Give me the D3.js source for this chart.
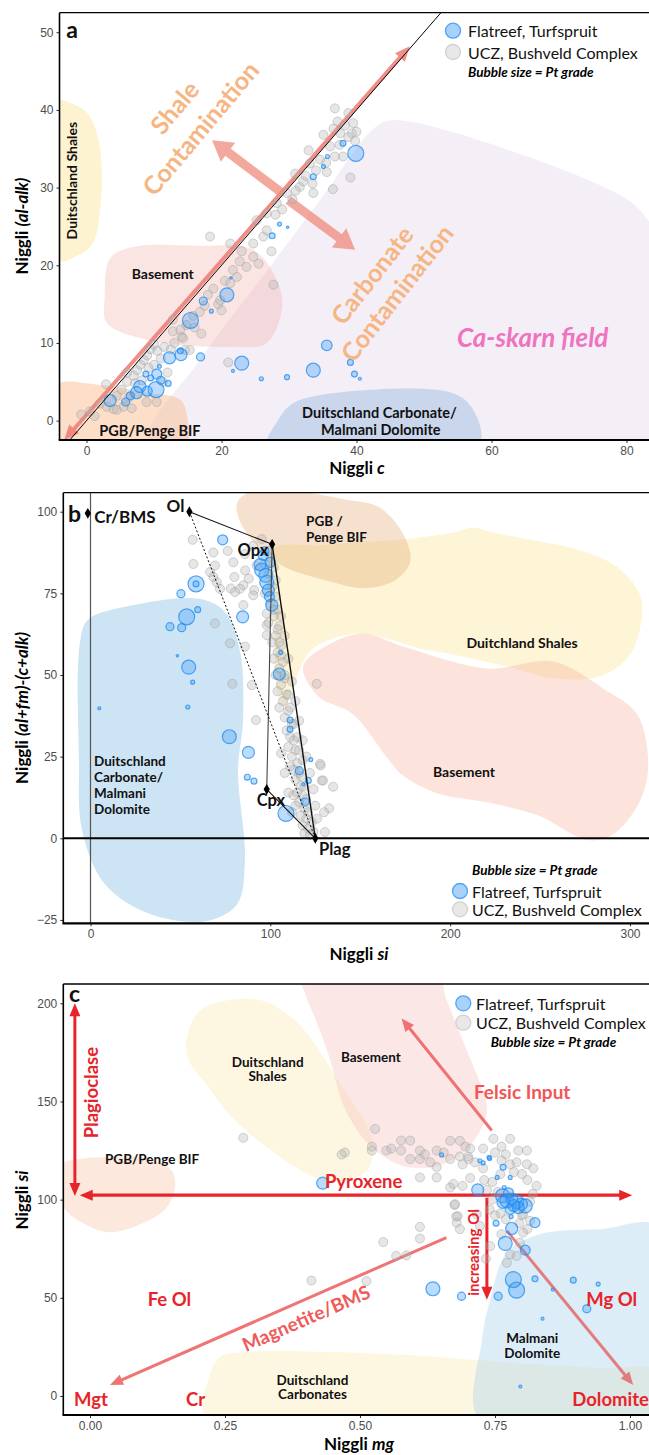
<!DOCTYPE html>
<html>
<head>
<meta charset="utf-8">
<script src="https://cdn.jsdelivr.net/npm/d3@7"></script>
<style>
  body { margin: 0; background: #fff; }
  svg text { font-family: Lato, "Open Sans", "DejaVu Sans", sans-serif; }
  .tick text { font-family: "Liberation Sans", Arial, sans-serif; font-size: 12px; fill: #4d4d4d; }
  .tick line { stroke: #333; }
</style>
</head>
<body>
<svg id="fig" width="649" height="1455"></svg>
<script>
// ---------------- Panel a: Niggli c vs Niggli (al-alk) ----------------
// [c, al-alk, Pt grade]
const flatreefA = [
  [3.5,2.6,5.8],[5.8,2.4,2.6],[7.9,4.4,5.8],[7.4,3.6,5.8],[10.3,4.0,10.2],[8.8,6.0,1.4],[10.4,6.0,4.0],
  [12.1,4.8,1.4],[10.8,7.0,0.6],[12.3,8.1,5.8],[14.0,8.5,5.8],[13.9,9.0,1.4],[16.9,8.2,2.6],[15.4,12.9,10.2],
  [17.3,15.4,2.6],[18.5,14.1,0.6],[20.8,16.2,7.8],[21.4,18.4,0.2],[23.0,7.4,7.8],[21.7,6.4,0.36],[25.9,5.4,0.64],
  [29.7,5.6,1.0],[33.6,6.5,7.8],[35.6,9.7,4.5],[39.1,7.5,1.4],[39.7,6.0,1.4],[40.5,5.4,0.36],[27.5,23.8,1.4],
  [28.6,25.3,0.64],[29.8,24.9,0.2],[33.6,31.4,1.4],[35.1,32.7,0.64],[38.0,35.7,1.4],[35.7,34.0,0.64],
  [39.9,34.4,10.2],[6.5,3.2,2.6],[9.0,3.8,4.0],[11.0,5.2,2.6],[9.5,5.5,1.4]
];
// [c, al-alk]
const uczA = [
  [-0.8,0.8],[0.5,1.2],[1.2,0.6],[2.9,4.7],[3.0,1.8],[2.0,2.2],[4.0,1.5],[5.5,1.8],[6.7,1.6],[8.9,2.4],
  [10.4,2.4],[4.5,3.2],[5.2,4.0],[6.0,5.0],[6.3,3.0],[7.0,5.8],[7.5,6.5],[8.0,7.2],[8.5,7.8],[9.0,8.4],
  [9.5,9.2],[10.0,9.8],[10.5,9.0],[11.0,8.0],[8.2,5.2],[9.2,6.8],[10.0,7.2],[11.5,9.5],[12.0,6.2],[12.5,9.2],
  [13.0,10.0],[11.3,5.0],[7.2,4.8],[6.0,6.2],[14.6,9.1],[12.8,11.5],[4.5,1.4],[21.0,7.5],[27.7,17.5],
  [14.8,12.3],[16.8,14.0],[14.1,10.8],[13.9,11.7],[14.3,10.6],[15.3,9.1],[15.8,13.5],[16.0,12.0],[17.5,14.8],
  [18.0,16.2],[18.8,17.0],[19.5,15.0],[20.0,14.2],[19.8,15.5],[20.5,18.0],[21.3,17.7],[22.3,18.5],[23.7,19.8],
  [21.7,19.4],[22.7,20.5],[24.7,21.1],[26.2,23.7],[24.7,22.8],[26.7,24.5],[27.4,21.8],[18.3,23.7],[21.3,22.8],
  [23.0,21.8],[25.5,20.2],[17.0,11.2],[12.8,13.0],
  [25.2,25.8],[26.7,26.7],[28.2,28.0],[29.7,29.3],[31.6,30.1],[32.1,30.8],[33.1,33.1],[34.6,33.6],[35.1,36.8],
  [32.9,34.8],[33.6,29.3],[30.9,31.8],[28.0,26.5],[29.0,27.2],[30.5,28.5],[31.0,29.6],[32.5,31.5],[34.0,32.2],
  [33.5,30.5],[35.5,33.2],[36.8,40.2],[38.8,39.6],[39.5,38.3],[39.3,37.0],[37.6,37.0],[36.6,37.6],[36.1,35.3],
  [38.0,34.0],[36.8,34.0],[35.6,32.0],[39.1,31.3],[36.5,29.8],[40.0,37.2],[38.8,36.5],[37.2,38.5],[38.3,38.0],
  [39.8,36.0],[37.5,35.5]
];
const ticksAx = [0, 20, 40, 60, 80];
const ticksAy = [0, 10, 20, 30, 40, 50];
// field outlines [c, al-alk]
const fieldSkarnA = [[9.4,-3.1],[16.8,7.8],[25.7,18.1],[34.6,28.4],[42.7,37.7],[45.7,38.7],[76.1,30.3],[82,27.1],[85,22],[85,-3.1]];
const fieldShalesA = [[-4.7,41.1],[-2.4,40.9],[0.1,39.6],[1.6,36.8],[2.3,31.9],[2.0,27.0],[1.4,23.8],[0.5,22.3],[-1.7,21.1],[-3.9,20.6]];
const fieldBasementA = [[3.5,20.9],[6.9,22.35],[16.8,22.5],[24.7,22.0],[28.2,18.1],[29.0,14.6],[26.7,10.0],[21.7,9.5],[9.0,10.4],[3.0,12.6],[2.7,15.9]];
const fieldPgbA = [[-4.7,4.5],[2.0,4.6],[9.0,3.6],[13.9,2.7],[14.9,0.5],[14.6,-3.2],[-4.7,-3.2]];
const fieldCarbA = [[26.9,-3.1],[28.4,0.1],[30.2,2.0],[34.6,3.3],[54.1,3.6],[57.3,1.4],[58.1,-3.1]];

// ---------------- Panel b: Niggli si vs (al+fm)-(c+alk) ----------------
const flatreefB = [
  [73.5,91.4,4.0],[58.7,77.9,10.2],[58.7,77.9,1.4],[50.3,74.9,2.6],[59.6,70.0,1.4],[53.5,67.8,10.2],[44.2,64.8,2.6],
  [50.7,64.5,2.6],[84.6,67.8,5.8],[54.6,52.4,7.8],[56.8,47.8,0.64],[48.3,55.9,0.16],[54.1,40.2,0.64],[4.9,39.8,0.36],
  [105.0,50.3,5.8],[105.8,56.9,0.64],[100.8,71.4,5.8],[95.2,82.1,7.8],[98.0,78.4,7.8],[98.9,76.0,5.8],[96.1,86.6,4.0],
  [94.3,83.8,5.8],[77.2,31.1,7.8],[87.8,26.3,5.8],[87.2,18.7,1.4],[90.9,17.5,1.4],[108.7,7.6,10.2],[111.0,36.2,1.4],
  [111.0,33.4,1.4],[116.1,20.7,2.6],[121.1,17.7,1.4],[119.3,11.1,2.6],[122.5,24.1,0.64],[118.4,16.5,0.36],
  [97.5,80.5,7.8],[99.5,74.0,4.0],[97.0,88.0,2.6],[100.0,84.5,4.0]
];
const uczB = [
  [56.8,91.4],[68.3,87.5],[76.3,88.0],[57.2,84.0],[69.2,83.5],[66.5,81.5],[80.0,80.0],[78.0,76.5],[85.0,77.5],
  [88.0,79.5],[91.0,76.0],[86.0,82.0],[69.2,65.8],[77.6,59.7],[85.9,58.7],[78.9,47.3],[89.7,46.9],[92.0,36.2],
  [112.8,13.2],[127.6,22.8],[128.6,17.7],[128.0,22.3],[129.3,17.7],[134.9,15.8],[132.7,9.2],[129.9,8.0],[130.4,1.9],
  [125.8,47.3],[98,65.3],[98,62.2],[90.5,89.6],[95.2,91.6],[85.9,87],[92.4,83.5],[83.1,76.4],[80.4,75.4],[90.5,74.4],
  [85,71.4],[98,68.8],[70.2,78.4],[72,76.4],[68.3,80],[79.4,84.5],
  [99,88],[100,86],[97,84],[102,83],[99,81],[103,79],[101,77],[97,75],[103,74],[100,72],[104,70],[102,68],[99,66],
  [105,65],[103,62],[101,60],[106,59],[104,57],[102,55],[107,54],[105,52],[103,50],[108,49],[106,47],[104,45],
  [109,44],[107,42],[105,40],[110,39],[108,37],[112,35],[109,33],[111,31],[113,30],[110,28],[114,27],[112,25],
  [115,23],[113,21],[116,20],[114,18],[117,16],[115,14],[118,13],[116,11],[119,9],[117,7],[120,6],[118,4],[121,3],
  [119,1.5],[122,1],[124,2],[123,5],[121,8],[120,12],[119,16],[117,19],[118,24],[116,27],[115,31],[113,35],[111,40],
  [110,44],[108,50],[106,56],[105,60],[104,64],[102,70],[106,68],[108,62],[110,55],[112,48],[114,42],[116,36],
  [118,30],[120,25],[122,20],[124,15],[125,10],[126,6],[112,8],[110,14],[108,20],[106,26],[111,22],[114,10]
];
const ticksBx = [0, 100, 200, 300];
const ticksBy = [-25, 0, 25, 50, 75, 100];
// mineral end-members [si, value]
const mineralsB = { Ol: [55, 100], Opx: [101, 90], Cpx: [98, 15], Plag: [125, 0], CrBMS: [-1.5, 99.5] };
const fieldCarbB = [[-5.8,60.2],[-1.4,66.9],[22.0,71.2],[60.9,73.3],[74.8,69.3],[83.1,57.4],[84.8,36.0],[82.0,20.7],
  [85.9,-6.5],[81.5,-20.2],[64.8,-25.3],[33.1,-23.2],[8.1,-14.1],[-4.7,2.5],[-6.4,23.8]];
const fieldPgbB = [[81.5,102.7],[88.7,106],[116.5,106],[141.6,103.7],[161,101.2],[174.9,92.1],[177.7,84.5],[169.4,79],
  [152.7,76.6],[127.6,79.5],[108.2,83],[95.4,88],[90.4,91],[83.1,97]];
const fieldShalesB = [[99.8,88.2],[127.6,89.7],[146,90.6],[173.8,91.5],[201.6,93.6],[212.7,95.1],[223.9,93.6],[276.1,87.5],
  [294.5,82.4],[305.6,74.5],[306.7,68.4],[300.1,56.3],[283.4,49.6],[257.2,49],[231.7,52.6],[201.6,56.3],[183.3,58.1],
  [164.9,61.2],[151.6,62.7],[134.9,61.2],[122.1,57.3],[113.7,48.2],[108.2,40.6],[103.7,45.1],[102.1,66.3]];
const fieldBasementB = [[118.2,52.6],[130.4,58.7],[151.6,62.7],[173.8,58.7],[220.5,52],[257.2,54.1],[285,45.9],[304,38],
  [310.1,22.8],[305.7,11.6],[290.1,1],[276.1,-0.5],[248.3,7.1],[220.5,11],[192.7,13.8],[173.8,19.2],[164.9,24.7],
  [146,38],[126.5,43.5]];

// ---------------- Panel c: Niggli mg vs Niggli si ----------------
const flatreefC = [
  [0.431,108.4,5.8],[0.635,54.6,7.8],[0.688,50.8,2.6],[0.756,50.8,2.6],[0.784,59.3,10.2],[0.790,53.9,10.2],
  [0.824,59.7,1.4],[0.857,54.2,0.36],[0.895,59.0,1.4],[0.941,57.0,0.64],[0.920,44.4,2.6],[0.838,39.4,0.36],
  [0.797,4.8,0.36],[0.769,77.7,7.8],[0.781,85.3,5.8],[0.806,74.3,4.0],[0.824,88.3,4.0],[0.752,88.0,1.4],
  [0.780,91.4,0.64],[0.718,105.0,5.8],[0.764,102.0,7.8],[0.772,99.4,7.8],[0.781,100.3,5.8],[0.790,98.9,7.8],
  [0.799,97.7,5.8],[0.806,96.8,7.8],[0.765,98.6,5.8],[0.778,95.1,4.0],[0.793,96.0,5.8],[0.765,116.5,1.4],
  [0.754,111.3,0.64],[0.778,111.3,0.64],[0.767,106.2,0.64],[0.722,119.8,0.64],[0.728,118.7,0.64],
  [0.739,121.6,0.64],[0.651,122.8,0.64],[0.740,121.0,0.64],[0.775,103.5,4.0],[0.785,97.0,5.8]
];
const uczC = [
  [0.284,131.5],[0.41,58.8],[0.543,78.4],[0.611,86.1],[0.611,80.2],[0.567,71.3],[0.586,71.6],[0.512,58.5],
  [0.675,97.3],[0.678,91.4],[0.679,88.3],[0.733,69.9],[0.741,76.4],[0.762,82.4],[0.778,72.1],[0.790,71.3],[0.772,67.8],
  [0.528,136],[0.576,130.1],[0.593,130.1],[0.611,125],[0.576,125],[0.549,125],[0.522,125],[0.472,124],[0.466,123],
  [0.558,126],[0.522,127],[0.642,125],[0.611,120.7],[0.593,120.7],[0.667,130],[0.685,130],[0.704,126],[0.685,122],
  [0.667,120.7],[0.642,116.6],[0.611,111.3],[0.642,111.3],[0.667,106.2],[0.700,122],[0.728,126],[0.747,131],
  [0.762,127],[0.778,131],[0.793,125],[0.809,125],[0.809,118],[0.821,116],[0.827,107],[0.762,120],[0.778,118],
  [0.728,116],[0.704,111],[0.690,118],[0.620,123],[0.630,119],[0.655,124],[0.695,127],[0.75,124],[0.77,123],
  [0.79,119],[0.80,113],[0.785,114],[0.76,113],[0.745,109],[0.73,110],[0.81,110],[0.82,103],[0.815,99],[0.80,92],
  [0.795,88],[0.81,85],[0.673,108],[0.69,107],[0.676,97.7],[0.681,91.6],[0.685,85],[0.716,92.6],[0.722,86.6],
  [0.802,92.6],[0.815,89.2],[0.802,83.2],[0.796,78.1],[0.713,119],[0.701,120.7],[0.755,104],[0.745,100],
  [0.74,95],[0.735,105],[0.76,93],[0.77,90],[0.75,92]
];
const ticksCx = [0, 0.25, 0.5, 0.75, 1];
const ticksCy = [0, 50, 100, 150, 200];
const fieldPgbC = [[-0.05,118.2],[-0.019,120.7],[0.037,121.7],[0.111,120.7],[0.152,114.6],[0.157,105.4],[0.139,95.1],
  [0.093,87.5],[0.037,83.4],[-0.009,87.5],[-0.046,95.1],[-0.056,105.4]];
const fieldShalesC = [[0.180,183.6],[0.204,196.4],[0.269,202],[0.324,201],[0.389,188.7],[0.463,159.1],[0.522,130.9],
  [0.515,115.6],[0.472,109.5],[0.426,110.5],[0.357,120.7],[0.265,141.2],[0.217,158.1],[0.181,171.9]];
const fieldBasementC = [[0.39,216],[0.64,216],[0.66,202],[0.691,180.6],[0.728,155],[0.735,144.8],[0.717,132.5],
  [0.691,124.3],[0.643,117.1],[0.58,117.1],[0.519,127.4],[0.472,146.3],[0.444,171.9],[0.417,192.3],[0.398,205]];
const fieldDolomiteC = [[0.722,-12.3],[0.726,28.6],[0.741,49.1],[0.772,73.1],[0.833,82.4],[0.944,84.9],[1.056,85.9],[1.06,-12.3]];
const fieldCarbC = [[0.217,-12.3],[0.222,10.7],[0.241,19.9],[0.287,22.5],[0.426,22.5],[0.611,20.5],[0.759,17.4],
  [0.944,14.3],[1.056,12.3],[1.06,-12.3]];

// ---------------- shared drawing ----------------
const svg = d3.select("#fig");
const rScale = d3.scaleSqrt().domain([0, 16]).range([0, 10]);
const uczPt = 3.3;

const colBlueFill = "#3d9cf5", colBlueStroke = "#1f8cf0";
const colGrayFill = "#b5b5b5", colGrayStroke = "#9a9a9a";

function makePanel(id, box, x, y, xt, yt, xfmt) {
  const g = svg.append("g");
  g.append("clipPath").attr("id", "clip-" + id)
    .append("rect").attr("x", box.left).attr("y", box.top)
    .attr("width", box.right - box.left).attr("height", box.bottom - box.top);
  const body = g.append("g").attr("clip-path", `url(#clip-${id})`);
  const ax = g.append("g");
  ax.append("g").attr("transform", `translate(0,${box.bottom})`)
    .call(d3.axisBottom(x).tickValues(xt).tickSize(3).tickPadding(3).tickFormat(xfmt || d3.format("d")))
    .call(s => s.select(".domain").remove());
  ax.append("g").attr("transform", `translate(${box.left},0)`)
    .call(d3.axisLeft(y).tickValues(yt).tickSize(3).tickPadding(3).tickFormat(d3.format("d")))
    .call(s => s.select(".domain").remove());
  return { g, body, box, x, y };
}
function frame(p) {
  const b = p.box;
  p.g.append("line").attr("x1", b.left).attr("x2", b.right).attr("y1", b.top).attr("y2", b.top)
    .attr("stroke", "#000").attr("stroke-width", 1.3);
  p.g.append("line").attr("x1", b.left).attr("x2", b.left).attr("y1", b.top).attr("y2", b.bottom)
    .attr("stroke", "#000").attr("stroke-width", 1.6);
  p.g.append("line").attr("x1", b.left - 0.8).attr("x2", b.right).attr("y1", b.bottom).attr("y2", b.bottom)
    .attr("stroke", "#000").attr("stroke-width", 2.2);
}
function field(p, pts, fill, op) {
  const line = d3.line().curve(d3.curveCatmullRomClosed.alpha(0.5)).x(d => p.x(d[0])).y(d => p.y(d[1]));
  p.body.append("path").attr("d", line(pts)).attr("fill", fill).attr("fill-opacity", op).attr("stroke", "none");
}
function bubbles(p, ucz, flat) {
  p.body.append("g").selectAll("circle").data(ucz).join("circle")
    .attr("cx", d => p.x(d[0])).attr("cy", d => p.y(d[1])).attr("r", rScale(uczPt))
    .attr("fill", colGrayFill).attr("fill-opacity", 0.34)
    .attr("stroke", colGrayStroke).attr("stroke-opacity", 0.42).attr("stroke-width", 1);
  p.body.append("g").selectAll("circle").data(flat).join("circle")
    .attr("cx", d => p.x(d[0])).attr("cy", d => p.y(d[1])).attr("r", d => Math.max(1.2, rScale(d[2])))
    .attr("fill", colBlueFill).attr("fill-opacity", 0.35)
    .attr("stroke", colBlueStroke).attr("stroke-opacity", 0.75).attr("stroke-width", 1.2);
}
function arrow(parent, p1, p2, o) {
  const g = parent.append("g").attr("opacity", o.opacity == null ? 1 : o.opacity);
  const dx = p2[0] - p1[0], dy = p2[1] - p1[1], L = Math.hypot(dx, dy);
  const ux = dx / L, uy = dy / L, nx = -uy, ny = ux;
  const a = o.start ? [p1[0] + ux * o.head * 0.7, p1[1] + uy * o.head * 0.7] : p1;
  const b = o.end ? [p2[0] - ux * o.head * 0.7, p2[1] - uy * o.head * 0.7] : p2;
  g.append("line").attr("x1", a[0]).attr("y1", a[1]).attr("x2", b[0]).attr("y2", b[1])
    .attr("stroke", o.color).attr("stroke-width", o.width);
  const head = (t, sx, sy) => {
    const bx = t[0] - sx * o.head, by = t[1] - sy * o.head;
    g.append("polygon").attr("points", [
      [t[0], t[1]], [bx + nx * o.headW / 2, by + ny * o.headW / 2], [bx - nx * o.headW / 2, by - ny * o.headW / 2]
    ].map(q => q.join(",")).join(" ")).attr("fill", o.color);
  };
  if (o.end) head(p2, ux, uy);
  if (o.start) head(p1, -ux, -uy);
}
function label(parent, x, y, str, o = {}) {
  const t = parent.append("text").attr("x", x).attr("y", y)
    .attr("text-anchor", o.anchor || "middle").attr("dominant-baseline", "central")
    .attr("font-size", o.size || 14).attr("font-weight", o.weight || "bold")
    .attr("font-style", o.italic ? "italic" : "normal").attr("fill", o.color || "#111")
    .text(str);
  if (o.rotate != null) t.attr("transform", `rotate(${o.rotate},${x},${y})`);
  return t;
}
function axisTitle(x, y, plain, ital, rotate) {
  const t = svg.append("text").attr("x", x).attr("y", y).attr("text-anchor", "middle")
    .attr("dominant-baseline", "central").attr("font-size", 17).attr("font-weight", "bold").attr("fill", "#000");
  t.append("tspan").text(plain);
  t.append("tspan").attr("font-style", "italic").text(ital);
  if (rotate) t.attr("transform", `rotate(-90,${x},${y})`);
}
function legend(cx, y1, y2, tx, by, bx) {
  const g = svg.append("g");
  g.append("circle").attr("cx", cx).attr("cy", y1).attr("r", 7.5)
    .attr("fill", "#a9d2fb").attr("stroke", "#4ea3f3").attr("stroke-width", 1.3);
  g.append("circle").attr("cx", cx).attr("cy", y2).attr("r", 7.5)
    .attr("fill", "#e8e8e8").attr("stroke", "#d2d2d2").attr("stroke-width", 1.3);
  label(g, tx, y1, "Flatreef, Turfspruit", { anchor: "start", weight: "normal", size: 16, color: "#111" });
  label(g, tx, y2, "UCZ, Bushveld Complex", { anchor: "start", weight: "normal", size: 16, color: "#111" });
  label(g, bx, by, "Bubble size = Pt grade", { anchor: "start", size: 13.5, italic: true, color: "#000" });
}

// ================= Panel a =================
{
  const box = { left: 59.5, right: 651, top: 12.7, bottom: 440 };
  const x = d3.scaleLinear().domain([0, 80]).range([86.5, 626.5]);
  const y = d3.scaleLinear().domain([0, 50]).range([420.7, 32.2]);
  const p = makePanel("a", box, x, y, ticksAx, ticksAy);
  field(p, fieldSkarnA, "#d9c6e6", 0.3);
  field(p, fieldShalesA, "#fbe08a", 0.4);
  field(p, fieldBasementA, "#f2a9a0", 0.3);
  field(p, fieldPgbA, "#f8b988", 0.45);
  field(p, fieldCarbA, "#8fb5dd", 0.42);
  // mixing trends
  arrow(p.body, [x(-3.3), y(-2.5)], [x(47.9), y(48.2)], { color: "#ef7b74", width: 4, head: 15, headW: 13, start: true, end: true, opacity: 0.85 });
  arrow(p.body, [x(29.0), y(29.3)], [x(18.6), y(36.1)], { color: "#ef8b7d", width: 9, head: 20, headW: 24, end: true, opacity: 0.75 });
  arrow(p.body, [x(29.9), y(28.4)], [x(39.8), y(22.0)], { color: "#ef8b7d", width: 9, head: 20, headW: 24, end: true, opacity: 0.75 });
  bubbles(p, uczA, flatreefA);
  // 1:1 line
  p.body.append("line").attr("x1", x(-5)).attr("y1", y(-5)).attr("x2", x(60)).attr("y2", y(60))
    .attr("stroke", "#000").attr("stroke-width", 1);
  frame(p);
  const L = p.g;
  label(L, x(-3.0), y(50.4), "a", { anchor: "start", size: 23 });
  label(L, x(-2.2), y(30.9), "Duitschland Shales", { size: 14, rotate: -90 });
  label(L, x(11.3), y(19.0), "Basement", { size: 14 });
  label(L, x(9.4), y(-1.2), "PGB/Penge BIF", { size: 14.5 });
  label(L, x(43.4), y(1.0), "Duitschland Carbonate/", { size: 14.5 });
  label(L, x(43.6), y(-1.07), "Malmani Dolomite", { size: 14.5 });
  label(L, x(66.1), y(10.8), "Ca-skarn field", { size: 26, italic: true, color: "#ef74bf" });
  label(L, x(12.96), y(40.4), "Shale", { size: 25, color: "#f6b684", rotate: -50 });
  label(L, x(16.8), y(37.7), "Contamination", { size: 25, color: "#f6b684", rotate: -50 });
  label(L, x(42.2), y(18.8), "Carbonate", { size: 25, color: "#f6b684", rotate: -52 });
  label(L, x(45.9), y(16.5), "Contamination", { size: 25, color: "#f6b684", rotate: -52 });
  legend(453, 30.7, 52, 468, 71.7, 468);
  axisTitle(21, 226, "Niggli ", "(al-alk)", true);
  axisTitle(357, 467, "Niggli ", "c", false);
}

// ================= Panel b =================
{
  const box = { left: 63.3, right: 651, top: 492.7, bottom: 923.3 };
  const x = d3.scaleLinear().domain([0, 300]).range([90.5, 630]);
  const y = d3.scaleLinear().domain([0, 100]).range([838.3, 511.7]);
  const p = makePanel("b", box, x, y, ticksBx, ticksBy);
  field(p, fieldCarbB, "#8ec3e6", 0.45);
  field(p, fieldShalesB, "#fbe08a", 0.35);
  field(p, fieldBasementB, "#f5ad95", 0.33);
  field(p, fieldPgbB, "#e2a870", 0.35);
  // reference axes
  p.body.append("line").attr("x1", x(0)).attr("x2", x(0)).attr("y1", box.top).attr("y2", box.bottom)
    .attr("stroke", "#555").attr("stroke-width", 1.2);
  bubbles(p, uczB, flatreefB);
  p.body.append("line").attr("x1", box.left).attr("x2", box.right).attr("y1", y(0)).attr("y2", y(0))
    .attr("stroke", "#000").attr("stroke-width", 2);
  // mineral tie-lines
  const m = mineralsB, P = k => [x(m[k][0]), y(m[k][1])];
  const seg = (a, b, col, w, dash) => p.body.append("line").attr("x1", P(a)[0]).attr("y1", P(a)[1])
    .attr("x2", P(b)[0]).attr("y2", P(b)[1]).attr("stroke", col).attr("stroke-width", w)
    .attr("stroke-dasharray", dash || null);
  seg("Ol", "Opx", "#111", 1.1);
  seg("Opx", "Plag", "#111", 1.4);
  seg("Opx", "Cpx", "#444", 1.1);
  seg("Cpx", "Plag", "#111", 1.1);
  seg("Ol", "Plag", "#111", 1, "2,2");
  p.body.append("g").selectAll("path").data(Object.values(m)).join("path")
    .attr("d", d3.symbol(d3.symbolDiamond, 34)).attr("transform", d => `translate(${x(d[0])},${y(d[1])})`)
    .attr("fill", "#000");
  frame(p);
  const L = p.g;
  label(L, x(-12.5), y(99.6), "b", { anchor: "start", size: 23 });
  label(L, x(2.1), y(98.5), "Cr/BMS", { anchor: "start", size: 17 });
  label(L, x(52.2), y(102), "Ol", { anchor: "end", size: 17 });
  label(L, x(98.9), y(88.3), "Opx", { anchor: "end", size: 16.5 });
  label(L, x(92.4), y(11.7), "Cpx", { anchor: "start", size: 16.5 });
  label(L, x(127.1), y(-3.4), "Plag", { anchor: "start", size: 16.5 });
  ["Duitschland", "Carbonate/", "Malmani", "Dolomite"].forEach((s, i) =>
    label(L, x(1.95), y([23.7, 18.8, 13.9, 9.0][i]), s, { anchor: "start", size: 13.5 }));
  label(L, x(119.9), y(97.2), "PGB /", { anchor: "start", size: 13.5 });
  label(L, x(119.9), y(92.3), "Penge BIF", { anchor: "start", size: 13.5 });
  label(L, x(240), y(60.1), "Duitchland Shales", { size: 14 });
  label(L, x(207.7), y(20.6), "Basement", { size: 14 });
  legend(460, 891, 909.3, 472, 870, 472);
  axisTitle(21, 708, "Niggli ", "(al+fm)-(c+alk)", true);
  axisTitle(359, 953, "Niggli ", "si", false);
}

// ================= Panel c =================
{
  const box = { left: 63.3, right: 651, top: 984, bottom: 1415 };
  const x = d3.scaleLinear().domain([0, 1]).range([90, 630]);
  const y = d3.scaleLinear().domain([0, 200]).range([1396, 1003.3]);
  const p = makePanel("c", box, x, y, ticksCx, ticksCy, d3.format(".2f"));
  field(p, fieldShalesC, "#f9e3a0", 0.3);
  field(p, fieldBasementC, "#f4a0a0", 0.25);
  field(p, fieldPgbC, "#f5b48a", 0.3);
  field(p, fieldCarbC, "#f9e3a0", 0.3);
  field(p, fieldDolomiteC, "#9ccbea", 0.35);
  const red = "#e8232a", salmon = "#ee6666";
  arrow(p.body, [x(-0.028), y(200)], [x(-0.028), y(101.8)], { color: red, width: 3, head: 13, headW: 11, start: true, end: true });
  arrow(p.body, [x(-0.019), y(102.3)], [x(1.004), y(102.3)], { color: red, width: 3.2, head: 13, headW: 11, start: true, end: true });
  arrow(p.body, [x(0.735), y(101)], [x(0.735), y(49)], { color: red, width: 3, head: 13, headW: 11, end: true });
  arrow(p.body, [x(0.744), y(135.2)], [x(0.577), y(192.3)], { color: salmon, width: 3, head: 13, headW: 11, end: true, opacity: 0.9 });
  arrow(p.body, [x(0.66), y(80.7)], [x(0.037), y(5.6)], { color: salmon, width: 3, head: 13, headW: 11, end: true, opacity: 0.9 });
  arrow(p.body, [x(0.772), y(84.1)], [x(1.006), y(5.6)], { color: "#e46a6a", width: 3, head: 13, headW: 11, end: true, opacity: 0.85 });
  bubbles(p, uczC, flatreefC);
  frame(p);
  const L = p.g;
  label(L, x(-0.039), y(205.1), "c", { anchor: "start", size: 23 });
  label(L, x(0.002), y(154.5), "Plagioclase", { size: 18.5, color: red, rotate: -90 });
  label(L, x(0.115), y(120.7), "PGB/Penge BIF", { size: 13.5 });
  label(L, x(0.329), y(170.3), "Duitschland", { size: 13.5 });
  label(L, x(0.329), y(163.2), "Shales", { size: 13.5 });
  label(L, x(0.520), y(172.9), "Basement", { size: 13.5 });
  label(L, x(0.711), y(155), "Felsic Input", { anchor: "start", size: 19, color: "#f25555" });
  label(L, x(0.435), y(109.5), "Pyroxene", { anchor: "start", size: 18.5, color: red });
  label(L, x(0.709), y(73.1), "increasing Ol", { size: 15, color: red, rotate: -90 });
  label(L, x(0.147), y(49.6), "Fe Ol", { size: 18.5, color: red });
  label(L, x(0.966), y(49.6), "Mg Ol", { size: 18.5, color: red });
  label(L, x(0.4), y(39.9), "Magnetite/BMS", { size: 19, color: "#f05a5a", rotate: -23.6 });
  label(L, x(-0.0296), y(-1.5), "Mgt", { anchor: "start", size: 18.5, color: red });
  label(L, x(0.178), y(-1.5), "Cr", { anchor: "start", size: 18.5, color: red });
  label(L, x(0.893), y(-1.5), "Dolomite", { anchor: "start", size: 18.5, color: red });
  label(L, x(0.819), y(29.7), "Malmani", { size: 13.5 });
  label(L, x(0.819), y(22.0), "Dolomite", { size: 13.5 });
  label(L, x(0.412), y(8.2), "Duitschland", { size: 13.5 });
  label(L, x(0.412), y(1.0), "Carbonates", { size: 13.5 });
  legend(463.3, 1003.3, 1022.7, 476, 1042.3, 490.7);
  axisTitle(21, 1200, "Niggli ", "si", true);
  axisTitle(359, 1443, "Niggli ", "mg", false);
}
</script>
</body>
</html>
